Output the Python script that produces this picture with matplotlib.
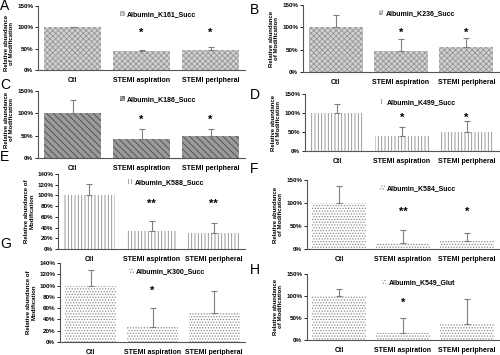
import matplotlib
matplotlib.use("Agg")
import matplotlib.pyplot as plt
from matplotlib.patches import Patch

groups = ["Ctl", "STEMI aspiration", "STEMI peripheral"]

titles = ["Albumin_K161_Succ", "Albumin_K236_Succ", "Albumin_K186_Succ", "Albumin_K499_Succ",
          "Albumin_K588_Succ", "Albumin_K584_Succ", "Albumin_K300_Succ", "Albumin_K549_Glut"]
letters = ["A", "B", "C", "D", "E", "F", "G", "H"]

means_A = [100, 45, 47]
errs_A = [1, 3, 6]
means_B = [100, 47, 57]
errs_B = [27, 27, 20]
means_C = [100, 42, 49]
errs_C = [29, 23, 15]
means_D = [100, 40, 50]
errs_D = [25, 22, 28]
means_E = [100, 34, 29]
errs_E = [22, 19, 19]
means_F = [100, 13, 18]
errs_F = [36, 29, 16]
means_G = [100, 27, 52]
errs_G = [27, 34, 38]
means_H = [100, 16, 37]
errs_H = [17, 35, 56]

stars_A = ["", "*", "*"]
stars_B = ["", "*", "*"]
stars_C = ["", "*", "*"]
stars_D = ["", "*", "*"]
stars_E = ["", "**", "**"]
stars_F = ["", "**", "*"]
stars_G = ["", "*", ""]
stars_H = ["", "*", ""]

means = [means_A, means_B, means_C, means_D, means_E, means_F, means_G, means_H]
errs = [errs_A, errs_B, errs_C, errs_D, errs_E, errs_F, errs_G, errs_H]
stars = [stars_A, stars_B, stars_C, stars_D, stars_E, stars_F, stars_G, stars_H]

# pixel boxes: left, right, top, bottom
boxes = [(38, 245, 6, 70), (303, 499, 5, 72), (38, 245, 91, 158), (305, 499, 94, 151),
         (58, 245, 174, 249), (307, 499, 180, 249), (60, 245, 263, 342), (307, 499, 274, 340)]
letter_pos = [(0, -1), (250, 3), (0, 78), (250, 88), (0, 150), (250, 162), (0, 237), (250, 263)]
ymax = [150, 150, 150, 150, 140, 150, 140, 150]
ystep = [50, 50, 50, 50, 20, 50, 20, 50]
star_y = [88, 88, 86, 88, 85, 80, 90, 85]
label_y = [0.42, 0.5, 0.57, 0.5, 0.5, 0.5, 0.5, 0.5]

styles = [
    dict(facecolor="#d2d2d2", edgecolor="#949494", hatch="xxxxxx"),
    dict(facecolor="#d2d2d2", edgecolor="#949494", hatch="xxxxxx"),
    dict(facecolor="#9a9a9a", edgecolor="#4a4a4a", hatch="\\\\\\\\\\"),
    dict(facecolor="white", edgecolor="#8a8a8a", hatch="|||||"),
    dict(facecolor="white", edgecolor="#8a8a8a", hatch="|||||"),
    dict(facecolor="white", edgecolor="#8a8a8a", hatch="......"),
    dict(facecolor="white", edgecolor="#8a8a8a", hatch="......"),
    dict(facecolor="white", edgecolor="#8a8a8a", hatch="......"),
]
ylabels = ["Relative abundance\nof Modification"] * 8
ylabels[4] = "Relative abundance of\nModification"
ylabels[6] = "Relative abundance of\nModification"

plt.rcParams["hatch.linewidth"] = 0.6
plt.rcParams["font.family"] = ["Liberation Sans", "DejaVu Sans"]

W, H = 500, 355
fig = plt.figure(figsize=(5, 3.55), dpi=100)

for i in range(8):
    l, r, t, b = boxes[i]
    ax = fig.add_axes([l / W, 1 - b / H, (r - l) / W, (b - t) / H])
    x = range(3)
    ax.bar(x, means[i], width=0.83, linewidth=0, **styles[i])
    ax.errorbar(x, means[i], yerr=[[0, 0, 0], errs[i]], fmt="none", ecolor="#7f7f7f",
                elinewidth=0.8, capsize=2, capthick=0.8)
    for j in range(3):
        if stars[i][j]:
            ax.text(j, star_y[i], stars[i][j], ha="center", va="center", fontsize=8, fontweight="bold")
    ax.set_xlim(-0.5, 2.5)
    ax.set_ylim(0, ymax[i])
    ax.set_yticks(range(0, ymax[i] + 1, ystep[i]))
    ax.set_yticklabels([f"{v}%" for v in range(0, ymax[i] + 1, ystep[i])], fontsize=4.5, fontweight="bold")
    ax.set_xticks(list(x))
    ax.set_xticklabels(groups, fontsize=5, fontweight="bold")
    ax.tick_params(axis="x", length=0, pad=5)
    ax.tick_params(axis="y", length=2, width=0.6, pad=1.5)
    for s in ["top", "right"]:
        ax.spines[s].set_visible(False)
    for s in ["left", "bottom"]:
        ax.spines[s].set_linewidth(0.8)
        ax.spines[s].set_color("#555555")
    ax.set_ylabel(ylabels[i], fontsize=4.3, fontweight="bold", labelpad=2, linespacing=1.1)
    ax.yaxis.label.set_y(label_y[i])
    handle = Patch(linewidth=0, **styles[i])
    ax.legend([handle], [titles[i]], loc="upper center", bbox_to_anchor=(0.58, 1.02), frameon=False,
              prop=dict(size=5, weight="bold"), handlelength=0.7, handleheight=0.7, handletextpad=0.3)
    fig.text(letter_pos[i][0] / W, 1 - letter_pos[i][1] / H, letters[i], fontsize=10, ha="left", va="top")

fig.savefig("out.png", dpi=100)
